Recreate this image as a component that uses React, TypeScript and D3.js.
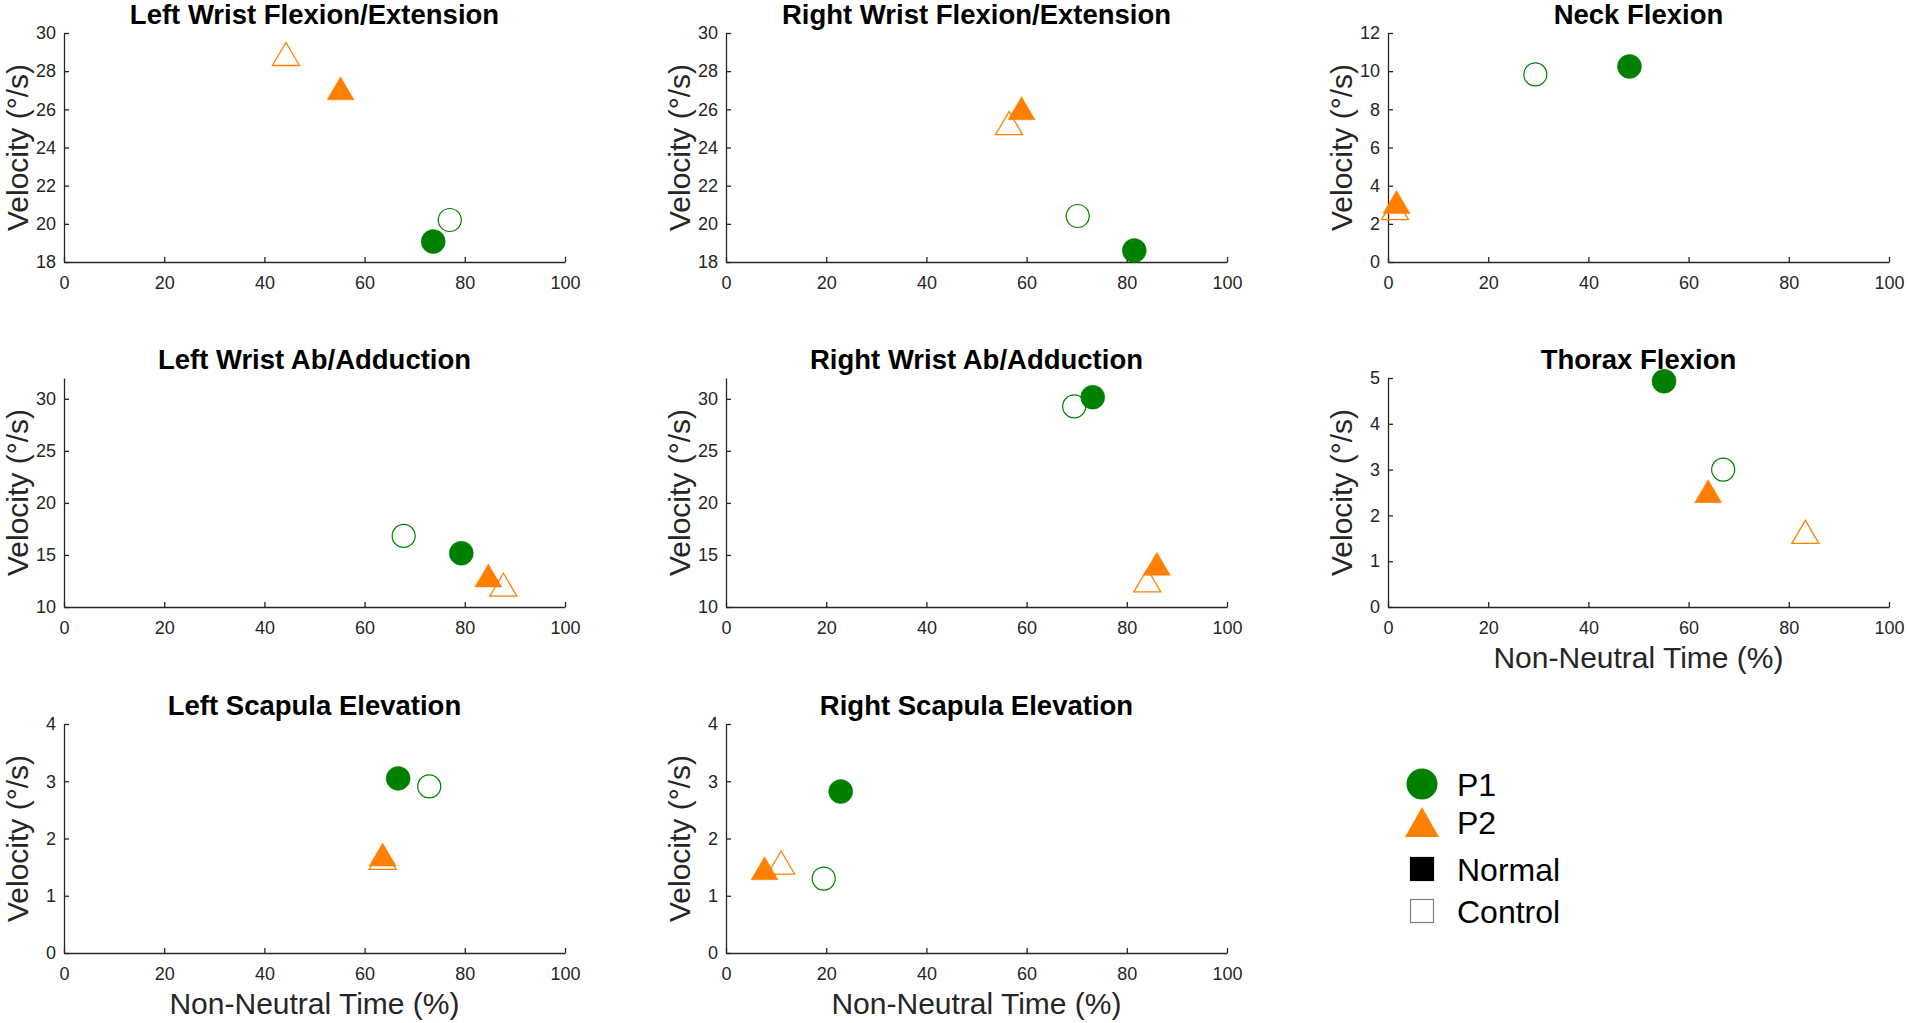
import React, { useEffect, useRef } from "react";
import * as d3 from "d3";

// panel titles, in reading order (3 columns)
const panelTitles = [
	"Left Wrist Flexion/Extension",
	"Right Wrist Flexion/Extension",
	"Neck Flexion",
	"Left Wrist Ab/Adduction",
	"Right Wrist Ab/Adduction",
	"Thorax Flexion",
	"Left Scapula Elevation",
	"Right Scapula Elevation",
];

const yDomains: [number, number][] = [
	[18, 30],
	[18, 30],
	[0, 12],
	[10, 32],
	[10, 32],
	[0, 5],
	[0, 4],
	[0, 4],
];

const yTickValues: number[][] = [
	[18, 20, 22, 24, 26, 28, 30],
	[18, 20, 22, 24, 26, 28, 30],
	[0, 2, 4, 6, 8, 10, 12],
	[10, 15, 20, 25, 30],
	[10, 15, 20, 25, 30],
	[0, 1, 2, 3, 4, 5],
	[0, 1, 2, 3, 4],
	[0, 1, 2, 3, 4],
];

const xTickValues = [0, 20, 40, 60, 80, 100];

// [non-neutral time %, velocity] per panel
const p1Normal: [number, number][] = [
	[73.7, 19.07],
	[81.5, 18.6],
	[48.2, 10.25],
	[79.3, 15.17],
	[73.2, 30.16],
	[55.1, 4.93],
	[66.7, 3.05],
	[22.9, 2.82],
];
const p1Control: [number, number][] = [
	[77.0, 20.2],
	[70.2, 20.41],
	[29.4, 9.83],
	[67.8, 16.83],
	[69.5, 29.27],
	[66.9, 3.0],
	[72.9, 2.91],
	[19.5, 1.3],
];
const p2Normal: [number, number][] = [
	[55.2, 27.1],
	[59.0, 26.06],
	[1.7, 3.15],
	[84.7, 13.03],
	[86.0, 14.15],
	[63.9, 2.53],
	[63.6, 1.72],
	[7.7, 1.48],
];
const p2Control: [number, number][] = [
	[44.3, 28.9],
	[56.5, 25.28],
	[1.4, 2.82],
	[87.7, 12.14],
	[84.1, 12.55],
	[83.3, 1.64],
	[63.6, 1.66],
	[11.0, 1.58],
];

const xLabelPanels = [5, 6, 7];
const legendLabels = ["P1", "P2", "Normal", "Control"];

const WIDTH = 1908;
const HEIGHT = 1023;
const colLeft = [64, 726, 1388];
const rowTop = [33, 378, 724];
const plotW = 501;
const plotH = 229;
const GREEN = "#008000";
const ORANGE = "#ff8000";
const AXIS = "#262626";
const FONT = "'Liberation Sans', Arial, Helvetica, sans-serif";

const triangle = (w: number, h: number) =>
	`M0,${-h / 2}L${w / 2},${h / 2}L${-w / 2},${h / 2}Z`;

const App: React.FC = () => {
	const svgRef = useRef<SVGSVGElement | null>(null);

	useEffect(() => {
		const svg = d3.select(svgRef.current);
		svg.selectAll("*").remove();

		svg.append("rect")
			.attr("width", WIDTH)
			.attr("height", HEIGHT)
			.attr("fill", "white");

		panelTitles.forEach((title, i) => {
			const col = i % 3;
			const row = Math.floor(i / 3);
			const g = svg
				.append("g")
				.attr("transform", `translate(${colLeft[col]},${rowTop[row]})`);

			const x = d3.scaleLinear().domain([0, 100]).range([0, plotW]);
			const y = d3.scaleLinear().domain(yDomains[i]).range([plotH, 0]);

			const gx = g
				.append("g")
				.attr("transform", `translate(0,${plotH})`)
				.call(
					d3
						.axisBottom(x)
						.tickValues(xTickValues)
						.tickFormat(d3.format("d"))
						.tickSizeInner(-5)
						.tickSizeOuter(0)
						.tickPadding(14)
				);
			const gy = g.append("g").call(
				d3
					.axisLeft(y)
					.tickValues(yTickValues[i])
					.tickFormat(d3.format("d"))
					.tickSizeInner(-5)
					.tickSizeOuter(0)
					.tickPadding(8)
			);

			[gx, gy].forEach((ax) => {
				ax.select(".domain")
					.attr("stroke", AXIS)
					.attr("stroke-width", 1.3);
				ax.selectAll(".tick line")
					.attr("stroke", AXIS)
					.attr("stroke-width", 1.3);
				ax.selectAll(".tick text")
					.attr("fill", AXIS)
					.style("font-size", "18px")
					.style("font-family", FONT);
			});

			g.append("text")
				.attr("x", plotW / 2)
				.attr("y", -9)
				.attr("text-anchor", "middle")
				.style("font-family", FONT)
				.style("font-weight", "bold")
				.style("font-size", "27.5px")
				.attr("fill", "#000")
				.text(title);

			g.append("text")
				.attr(
					"transform",
					`translate(-36,${plotH / 2}) rotate(-90)`
				)
				.attr("text-anchor", "middle")
				.style("font-family", FONT)
				.style("font-size", "30px")
				.attr("fill", AXIS)
				.text("Velocity (°/s)");

			if (xLabelPanels.includes(i)) {
				g.append("text")
					.attr("x", plotW / 2)
					.attr("y", plotH + 61)
					.attr("text-anchor", "middle")
					.style("font-family", FONT)
					.style("font-size", "30px")
					.attr("fill", AXIS)
					.text("Non-Neutral Time (%)");
			}

			const layers = [
				{ pts: p1Control, shape: "circle", color: GREEN, filled: false },
				{ pts: p2Control, shape: "tri", color: ORANGE, filled: false },
				{ pts: p1Normal, shape: "circle", color: GREEN, filled: true },
				{ pts: p2Normal, shape: "tri", color: ORANGE, filled: true },
			];

			layers.forEach((layer) => {
				const [vx, vy] = layer.pts[i];
				if (layer.shape === "circle") {
					g.append("circle")
						.attr("cx", x(vx))
						.attr("cy", y(vy))
						.attr("r", layer.filled ? 12 : 11.5)
						.attr("fill", layer.filled ? layer.color : "none")
						.attr("stroke", layer.color)
						.attr("stroke-width", layer.filled ? 0.5 : 1.2);
				} else {
					g.append("path")
						.attr("d", triangle(27, 23))
						.attr("transform", `translate(${x(vx)},${y(vy)})`)
						.attr("fill", layer.filled ? layer.color : "none")
						.attr("stroke", layer.color)
						.attr("stroke-width", layer.filled ? 0.5 : 1.3);
				}
			});
		});

		// legend
		const legend = svg.append("g").attr("transform", "translate(1422,784)");
		const rowY = [0, 38, 85, 127];
		legendLabels.forEach((label, k) => {
			const item = legend.append("g").attr("transform", `translate(0,${rowY[k]})`);
			if (k === 0) {
				item.append("circle").attr("r", 15.5).attr("fill", GREEN);
			} else if (k === 1) {
				item.append("path").attr("d", triangle(34, 30)).attr("fill", ORANGE);
			} else {
				item.append("rect")
					.attr("x", -11.5)
					.attr("y", -11.5)
					.attr("width", 23)
					.attr("height", 23)
					.attr("fill", k === 2 ? "#000" : "#fff")
					.attr("stroke", k === 2 ? "#000" : "#808080")
					.attr("stroke-width", 1.2);
			}
			item.append("text")
				.attr("x", 35)
				.attr("y", 12)
				.style("font-family", FONT)
				.style("font-size", "32px")
				.attr("fill", "#000")
				.text(label);
		});
	}, []);

	return (
		<svg
			ref={svgRef}
			width={WIDTH}
			height={HEIGHT}
			style={{ position: "absolute", left: 0, top: 0 }}
		></svg>
	);
};

export default App;
